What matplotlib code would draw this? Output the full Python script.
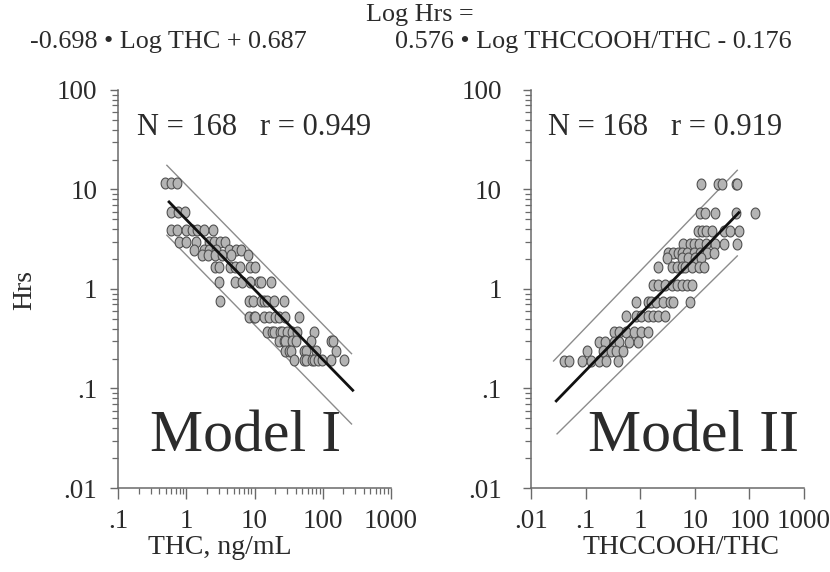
import numpy as np
import matplotlib
matplotlib.use("Agg")
import matplotlib.pyplot as plt
from matplotlib.path import Path
from matplotlib.ticker import NullFormatter, LogLocator

plt.rcParams['font.family'] = ['Liberation Serif', 'DejaVu Serif']
TXT = '#2b2b2b'
AXC = '#6a6a6a'

# ---- Model I : Hrs vs THC (ng/mL), points grouped by hour level ----
thc_rows = {
    11.5: [0.49, 0.6, 0.73],
    5.9:  [0.6, 0.75, 0.97],
    3.9:  [0.6, 0.73, 1.0, 1.21, 1.44, 1.8, 2.47],
    2.95: [0.77, 1.0, 1.39, 2.13, 2.52, 3.09, 3.75],
    2.45: [1.31, 1.8, 2.13, 2.7, 4.2, 5.3, 6.3],
    2.2:  [1.7, 2.1, 2.6, 3.3, 4.6, 8.1],
    1.65: [2.67, 2.99, 4.43, 5.25, 6.2, 8.7, 10.3],
    1.17: [2.99, 5.2, 6.6, 8.7, 11.6, 12.3, 17.2],
    0.76: [3.16, 8.2, 9.5, 12.3, 13.7, 15.3, 19.2, 27.2],
    0.52: [8.2, 9.8, 10.3, 13.7, 16.2, 20.3, 22.6, 28.4, 44.7],
    0.37: [15.3, 18.1, 19.2, 24.0, 25.5, 30.1, 35.6, 42.4, 74.0],
    0.30: [22.6, 27.2, 28.4, 35.6, 39.9, 66.9, 132, 140],
    0.24: [28.4, 31.7, 33.7, 53.0, 56.0, 79.0, 155],
    0.195: [37.6, 53.0, 56.0, 70.0, 74.4, 83.8, 99.0, 132, 205],
}
thc_fit_x = [0.56, 275]
thc_fit_y = [7.5, 0.096]
thc_up_x = [0.52, 264]
thc_up_y = [17.5, 0.224]
thc_lo_x = [0.52, 264]
thc_lo_y = [3.47, 0.044]

# ---- Model II : Hrs vs THCCOOH/THC ----
ratio_rows = {
    11.3: [13.1, 26.7, 31.6, 55.8, 60.0],
    5.8:  [12.5, 15.5, 23.8, 55.7, 127],
    3.85: [11.4, 13.5, 16.0, 20.7, 33.9, 45.0, 64.0],
    2.85: [6.2, 8.0, 9.5, 11.7, 16.0, 23.8, 33.9, 60.0],
    2.3:  [3.25, 4.0, 5.0, 5.75, 7.1, 9.5, 12.5, 16.7, 22.2],
    2.05: [3.16, 5.75, 7.6, 9.9, 13.1],
    1.67: [2.12, 3.75, 4.64, 5.75, 6.6, 8.8, 11.7, 14.5],
    1.1:  [1.72, 2.12, 2.82, 3.75, 4.64, 5.75, 7.1, 8.8],
    0.74: [0.84, 1.39, 1.6, 1.98, 2.6, 3.45, 4.0, 8.2],
    0.53: [0.55, 0.84, 1.04, 1.39, 1.72, 2.12, 2.82],
    0.37: [0.33, 0.41, 0.55, 0.76, 1.04, 1.39],
    0.29: [0.176, 0.225, 0.33, 0.41, 0.63, 0.9],
    0.24: [0.107, 0.204, 0.29, 0.36, 0.48],
    0.19: [0.04, 0.049, 0.087, 0.124, 0.176, 0.234, 0.386],
}
ratio_fit_x = [0.029, 64]
ratio_fit_y = [0.075, 5.85]
ratio_up_x = [0.0259, 60]
ratio_up_y = [0.189, 15.6]
ratio_lo_x = [0.03, 60]
ratio_lo_y = [0.035, 2.15]

y_ticks = [0.01, 0.1, 1, 10, 100]
y_labels = ['.01', '.1', '1', '10', '100']
thc_ticks = [0.1, 1, 10, 100, 1000]
thc_labels = ['.1', '1', '10', '100', '1000']
ratio_ticks = [0.01, 0.1, 1, 10, 100, 1000]
ratio_labels = ['.01', '.1', '1', '10', '100', '1000']

# slightly tall oval marker
t = np.linspace(0, 2 * np.pi, 40)
oval = Path(np.column_stack([0.8 * np.cos(t), np.sin(t)]))


def flatten(rows):
    xs, ys = [], []
    for yv, xl in rows.items():
        xs += xl
        ys += [yv] * len(xl)
    return xs, ys


def panel(ax, rows, fit, up, lo, xt, xl, stats, model, sx, mx, ypad):
    xs, ys = flatten(rows)
    ax.plot(up[0], up[1], color='#8c8c8c', lw=1.0)
    ax.plot(lo[0], lo[1], color='#8c8c8c', lw=1.0)
    ax.scatter(xs, ys, marker=oval, s=62, facecolor='#b4b4b4',
               edgecolor='#505050', linewidth=0.8, zorder=3)
    ax.plot(fit[0], fit[1], color='#111111', lw=2.0, zorder=4)
    ax.set_xscale('log')
    ax.set_yscale('log')
    ax.set_xlim(xt[0], xt[-1])
    ax.set_ylim(0.01, 100)
    ax.set_xticks(xt)
    ax.set_xticklabels(xl)
    ax.set_yticks(y_ticks)
    ax.set_yticklabels(y_labels)
    for a in (ax.xaxis, ax.yaxis):
        a.set_minor_locator(LogLocator(base=10, subs=np.arange(2, 10)))
        a.set_minor_formatter(NullFormatter())
    ax.spines['top'].set_visible(False)
    ax.spines['right'].set_visible(False)
    for s in ('left', 'bottom'):
        ax.spines[s].set_color(AXC)
        ax.spines[s].set_linewidth(1.1)
    ax.tick_params(axis='x', which='major', length=8, width=1.0, color=AXC,
                   labelsize=19.5, labelcolor=TXT, pad=7)
    ax.tick_params(axis='x', which='minor', length=4, width=0.9, color=AXC)
    ax.tick_params(axis='y', which='major', length=6, width=1.0, color=AXC,
                   labelsize=19.5, labelcolor=TXT, pad=ypad)
    ax.tick_params(axis='y', which='minor', length=4, width=0.9, color=AXC)
    ax.text(sx, 0.905, stats, transform=ax.transAxes, fontsize=22,
            color=TXT, va='center', ha='left')
    ax.text(mx, 0.128, model, transform=ax.transAxes, fontsize=43,
            color=TXT, va='center', ha='left')


fig = plt.figure(figsize=(8.3, 5.72), dpi=100)
axw = 273 / 830
axh = 398 / 572
ax1 = fig.add_axes([118 / 830, 1 - 488 / 572, axw, axh])
ax2 = fig.add_axes([531 / 830, 1 - 488 / 572, axw, axh])

panel(ax1, thc_rows, (thc_fit_x, thc_fit_y), (thc_up_x, thc_up_y),
      (thc_lo_x, thc_lo_y), thc_ticks, thc_labels,
      'N = 168   r = 0.949', 'Model I', 0.07, 0.117, 9)
panel(ax2, ratio_rows, (ratio_fit_x, ratio_fit_y), (ratio_up_x, ratio_up_y),
      (ratio_lo_x, ratio_lo_y), ratio_ticks, ratio_labels,
      'N = 168   r = 0.919', 'Model II', 0.062, 0.209, 15)

fig.text(220 / 830, 1 - 547 / 572, 'THC, ng/mL', fontsize=20, color=TXT,
         ha='center', va='center')
fig.text(681 / 830, 1 - 547 / 572, 'THCCOOH/THC', fontsize=20, color=TXT,
         ha='center', va='center')
fig.text(25 / 830, 1 - 290 / 572, 'Hrs', fontsize=20, color=TXT,
         ha='center', va='center', rotation=90)

fig.text(420 / 830, 1 - 15 / 572, 'Log Hrs =', fontsize=18.8, color=TXT,
         ha='center', va='center')
fig.text(30 / 830, 1 - 42 / 572, '-0.698 \u2022 Log THC + 0.687',
         fontsize=18.8, color=TXT, ha='left', va='center')
fig.text(395 / 830, 1 - 42 / 572, '0.576 \u2022 Log THCCOOH/THC - 0.176',
         fontsize=18.8, color=TXT, ha='left', va='center')

fig.savefig('out.png', dpi=100, facecolor='white')
